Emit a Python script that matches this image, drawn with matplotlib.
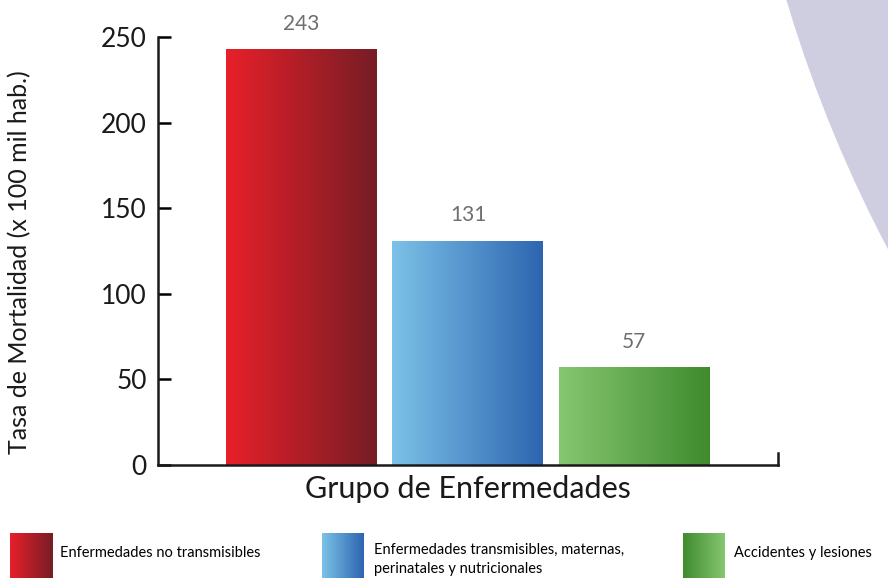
import matplotlib.pyplot as plt
import numpy as np
from matplotlib.patches import Ellipse
from matplotlib.colors import LinearSegmentedColormap

categories = ["Enfermedades no transmisibles",
              "Enfermedades transmisibles, maternas,\nperinatales y nutricionales",
              "Accidentes y lesiones"]
values = [243, 131, 57]
yticks = [0, 50, 100, 150, 200, 250]
grad_colors = [("#e8202a", "#761d25"), ("#7cc2e8", "#2d65b0"), ("#86c671", "#3f8b2d")]

plt.rcParams['font.family'] = ['Lato', 'DejaVu Sans']

fig = plt.figure(figsize=(8.88, 5.82), dpi=100)

# lavender background shape on the right
fig.patches.append(Ellipse((2110 / 888, 976 / 582), 2 * 1381 / 888, 2 * 1381 / 582,
                           transform=fig.transFigure, facecolor="#cfcde0",
                           edgecolor="none", zorder=0))

ax = fig.add_axes([0.178, 0.201, 0.698, 0.7354])
ax.patch.set_alpha(0)

grad = np.linspace(0, 1, 256).reshape(1, -1)
x = np.arange(len(values))
bars = ax.bar(x, values, width=0.907, color="none", zorder=2)
for bar, (c0, c1) in zip(bars, grad_colors):
    cmap = LinearSegmentedColormap.from_list("g", [c0, c1])
    bx, by = bar.get_x(), bar.get_y()
    im = ax.imshow(grad, cmap=cmap, aspect="auto", zorder=1,
                   extent=[bx, bx + bar.get_width(), by, by + bar.get_height()])
    im.set_clip_path(bar)

ax.bar_label(bars, labels=[str(v) for v in values], padding=11, color="#6f6f71",
             fontsize=15)

ax.set_xlim(-0.862, 2.862)
ax.set_ylim(0, 250)
ax.set_yticks(yticks)
ax.set_xticks([])
ax.tick_params(axis='y', direction='in', length=9, width=1.8, labelsize=19,
               pad=8, labelcolor="#1a1a1a")
ax.spines["top"].set_visible(False)
for s in ["left", "bottom", "right"]:
    ax.spines[s].set_linewidth(1.8)
    ax.spines[s].set_color("#1a1a1a")
ax.spines["right"].set_bounds(0, 7)
ax.set_ylabel("Tasa de Mortalidad (x 100 mil hab.)", fontsize=18, color="#1a1a1a")
ax.yaxis.set_label_coords(-0.205, 0.475)
ax.set_xlabel("Grupo de Enfermedades", fontsize=22, labelpad=7, color="#1a1a1a")

# legend
leg_x = [10, 322, 683]
txt_x = [60, 374, 734]
for i, lab in enumerate(categories):
    c0, c1 = grad_colors[i]
    if i == 2:
        c0, c1 = c1, c0
    lax = fig.add_axes([leg_x[i] / 888, (582 - 578) / 582, 42 / 888, 45 / 582])
    lax.imshow(grad, cmap=LinearSegmentedColormap.from_list("l", [c0, c1]), aspect="auto")
    lax.axis("off")
    if i == 1:
        fig.text(txt_x[i] / 888, (582 - 543) / 582, lab, fontsize=10.5, va="top",
                 linespacing=1.45)
    else:
        fig.text(txt_x[i] / 888, (582 - 553) / 582, lab, fontsize=10.5, va="center")

fig.savefig("out.png", dpi=100)
